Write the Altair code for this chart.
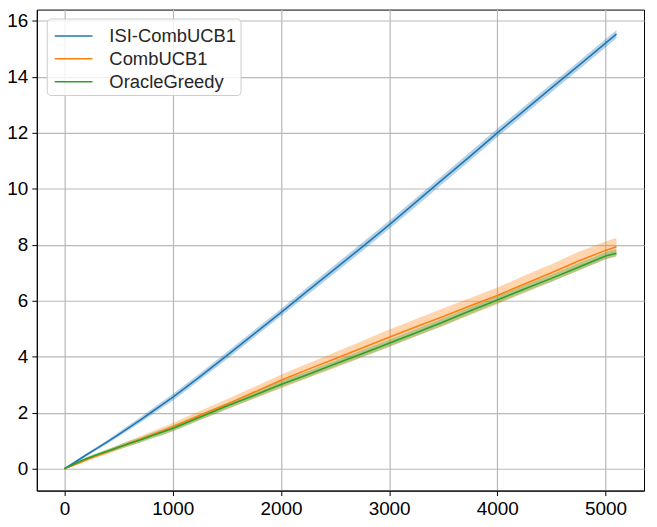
import altair as alt
import pandas as pd

steps = [0, 100, 200, 300, 400, 500, 600, 700, 800, 900, 1000, 1250, 1500, 1750,
         2000, 2250, 2500, 2750, 3000, 3250, 3500, 3750, 4000, 4250, 4500, 4750, 5000, 5100]

isi_mean = [0, 0.24, 0.49, 0.73, 0.97, 1.22, 1.48, 1.74, 2.01, 2.28, 2.55, 3.28, 4.04, 4.81,
            5.58, 6.36, 7.14, 7.92, 8.71, 9.53, 10.35, 11.17, 12.00, 12.80, 13.60, 14.40, 15.20, 15.52]
isi_lo = [0, 0.20, 0.44, 0.67, 0.90, 1.14, 1.39, 1.64, 1.90, 2.17, 2.43, 3.16, 3.91, 4.68,
          5.45, 6.22, 6.99, 7.77, 8.56, 9.38, 10.20, 11.02, 11.85, 12.65, 13.45, 14.25, 15.05, 15.38]
isi_hi = [0, 0.28, 0.54, 0.79, 1.04, 1.30, 1.57, 1.84, 2.12, 2.39, 2.67, 3.40, 4.17, 4.94,
          5.71, 6.50, 7.29, 8.07, 8.86, 9.68, 10.50, 11.32, 12.15, 12.95, 13.75, 14.55, 15.35, 15.66]

comb_mean = [0, 0.15, 0.31, 0.46, 0.61, 0.76, 0.91, 1.05, 1.20, 1.34, 1.49, 1.90, 2.30, 2.73,
             3.16, 3.55, 3.93, 4.31, 4.70, 5.07, 5.44, 5.82, 6.19, 6.60, 7.00, 7.42, 7.80, 7.93]
comb_lo = [0, 0.12, 0.26, 0.40, 0.53, 0.67, 0.81, 0.94, 1.08, 1.21, 1.35, 1.74, 2.12, 2.50,
           2.87, 3.24, 3.60, 3.97, 4.35, 4.73, 5.10, 5.49, 5.88, 6.28, 6.68, 7.08, 7.48, 7.60]
comb_hi = [0, 0.18, 0.36, 0.53, 0.69, 0.85, 1.01, 1.16, 1.32, 1.47, 1.63, 2.06, 2.48, 2.92,
           3.36, 3.76, 4.16, 4.56, 4.97, 5.35, 5.73, 6.10, 6.47, 6.90, 7.30, 7.75, 8.12, 8.25]

oracle_mean = [0, 0.19, 0.36, 0.50, 0.63, 0.77, 0.90, 1.03, 1.17, 1.30, 1.44, 1.84, 2.24, 2.62,
               3.01, 3.37, 3.74, 4.11, 4.48, 4.86, 5.24, 5.64, 6.03, 6.42, 6.80, 7.20, 7.60, 7.70]
oracle_lo = [0, 0.15, 0.31, 0.44, 0.56, 0.69, 0.81, 0.94, 1.07, 1.20, 1.33, 1.73, 2.13, 2.51,
             2.90, 3.26, 3.63, 3.99, 4.36, 4.74, 5.12, 5.52, 5.91, 6.30, 6.68, 7.08, 7.48, 7.58]
oracle_hi = [0, 0.23, 0.41, 0.56, 0.70, 0.85, 0.99, 1.12, 1.27, 1.40, 1.55, 1.95, 2.35, 2.74,
             3.13, 3.49, 3.86, 4.24, 4.61, 4.99, 5.38, 5.78, 6.17, 6.56, 6.94, 7.34, 7.74, 7.85]

series_names = ["ISI-CombUCB1", "CombUCB1", "OracleGreedy"]
series_colors = ["#1f77b4", "#ff7f0e", "#2ca02c"]
x_ticks = [0, 1000, 2000, 3000, 4000, 5000]
y_ticks = [0, 2, 4, 6, 8, 10, 12, 14, 16]

rows = []
for name, m, lo, hi in zip(series_names,
                           [isi_mean, comb_mean, oracle_mean],
                           [isi_lo, comb_lo, oracle_lo],
                           [isi_hi, comb_hi, oracle_hi]):
    for xv, a, b, c in zip(steps, m, lo, hi):
        rows.append({"series": name, "t": xv, "mean": a, "lo": b, "hi": c})
df = pd.DataFrame(rows)

FONT = "Liberation Sans"

xscale = alt.Scale(domain=[-255, 5355], nice=False, zero=False)
yscale = alt.Scale(domain=[-0.78, 16.4], nice=False, zero=False)
cscale = alt.Scale(domain=series_names, range=series_colors)

legend = alt.Legend(
    title=None,
    orient="none",
    legendX=10,
    legendY=9,
    symbolType="M-0.76,0H2.28",
    symbolSize=625,
    symbolStrokeWidth=1.5,
    symbolOpacity=1,
    labelFont=FONT,
    labelFontSize=18.5,
    labelColor="#262626",
    labelOffset=32,
    padding=4,
    rowPadding=0,
    fillColor="rgba(255,255,255,0.8)",
    strokeColor="#cccccc",
    cornerRadius=4,
)

xaxis = alt.Axis(values=x_ticks, format="d", title=None, labelFont=FONT, labelFontSize=19,
                 labelColor="black", tickColor="black", tickSize=5, domainColor="black",
                 gridColor="#b8b8b8", gridWidth=1.2, labelPadding=4, labelFlush=False)
yaxis = alt.Axis(values=y_ticks, format="d", title=None, labelFont=FONT, labelFontSize=19,
                 labelColor="black", tickColor="black", tickSize=5, domainColor="black",
                 gridColor="#b8b8b8", gridWidth=1.2, labelPadding=4)

base = alt.Chart(df)

bands = base.mark_area(opacity=0.33, clip=True).encode(
    x=alt.X("t:Q", scale=xscale, axis=xaxis),
    y=alt.Y("lo:Q", scale=yscale, axis=yaxis),
    y2="hi:Q",
    color=alt.Color("series:N", scale=cscale, legend=legend),
    detail="series:N",
)

lines = base.mark_line(strokeWidth=1.6, clip=True).encode(
    x=alt.X("t:Q", scale=xscale),
    y=alt.Y("mean:Q", scale=yscale),
    stroke=alt.Stroke("series:N", scale=cscale, legend=legend),
)

chart = alt.layer(bands, lines).properties(
    width=611,
    height=484,
    autosize=alt.AutoSizeParams(type="none"),
    padding={"left": 29, "top": 0, "right": 5, "bottom": 30},
).configure_view(stroke="black", strokeWidth=1)

chart.save("out.html", embed_options={"renderer": "svg", "actions": False})
